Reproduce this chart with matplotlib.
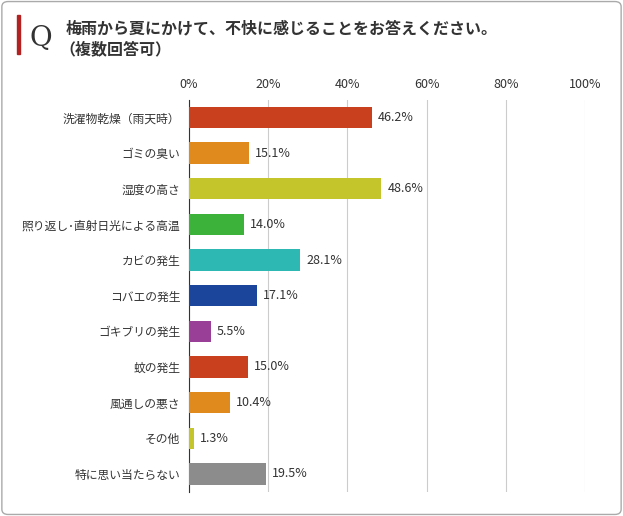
import matplotlib
matplotlib.use("Agg")
import matplotlib.pyplot as plt
from matplotlib.patches import FancyBboxPatch, Rectangle

plt.rcParams['font.family'] = 'Noto Sans CJK JP'

categories = ["洗濯物乾燥（雨天時）", "ゴミの臭い", "湿度の高さ", "照り返し･直射日光による高温",
              "カビの発生", "コバエの発生", "ゴキブリの発生", "蚊の発生", "風通しの悪さ", "その他",
              "特に思い当たらない"]
values = [46.2, 15.1, 48.6, 14.0, 28.1, 17.1, 5.5, 15.0, 10.4, 1.3, 19.5]
colors = ["#C8401E", "#E08A1E", "#C3C52A", "#3DB23A", "#2DB8B3", "#1A459B",
          "#9A3F98", "#C8401E", "#E08A1E", "#C3C52A", "#8C8C8C"]
ticks = [0, 20, 40, 60, 80, 100]
tick_labels = ["0%", "20%", "40%", "60%", "80%", "100%"]

fig = plt.figure(figsize=(6.23, 5.16), dpi=100)
fig.patches.append(FancyBboxPatch((0.003, 0.003), 0.994, 0.994, boxstyle="round,pad=0,rounding_size=0.01",
                                  transform=fig.transFigure, fill=False, ec="#AAAAAA", lw=1))
fig.patches.append(Rectangle((0.027, 0.895), 0.005, 0.075, transform=fig.transFigure, color="#B22222"))
fig.text(0.048, 0.925, "Q", fontsize=20, fontfamily="DejaVu Serif", va="center", color="#333333")
fig.text(0.105, 0.945, "梅雨から夏にかけて、不快に感じることをお答えください。", fontsize=11.5,
         fontweight="bold", va="center", color="#333333")
fig.text(0.095, 0.905, "（複数回答可）", fontsize=11.5, fontweight="bold", va="center", color="#333333")

ax = fig.add_axes([0.303, 0.047, 0.636, 0.76])
y = list(range(len(categories)))
ax.barh(y, values, color=colors, height=0.6, zorder=3)
for yi, v in zip(y, values):
    ax.text(v + 1.5, yi, f"{v:.1f}%", va="center", fontsize=9, color="#333333")
ax.set_ylim(len(categories) - 0.5, -0.5)
ax.set_xlim(0, 100)
ax.set_yticks(y)
ax.set_yticklabels(categories, fontsize=8.5, color="#333333")
ax.set_xticks(ticks)
ax.set_xticklabels(tick_labels, fontsize=9, color="#333333")
ax.xaxis.tick_top()
ax.tick_params(length=0, pad=6)
ax.grid(axis="x", color="#CCCCCC", lw=0.8, zorder=0)
for s in ["top", "right", "bottom"]:
    ax.spines[s].set_visible(False)
ax.spines["left"].set_color("#333333")
fig.savefig("out.png")
